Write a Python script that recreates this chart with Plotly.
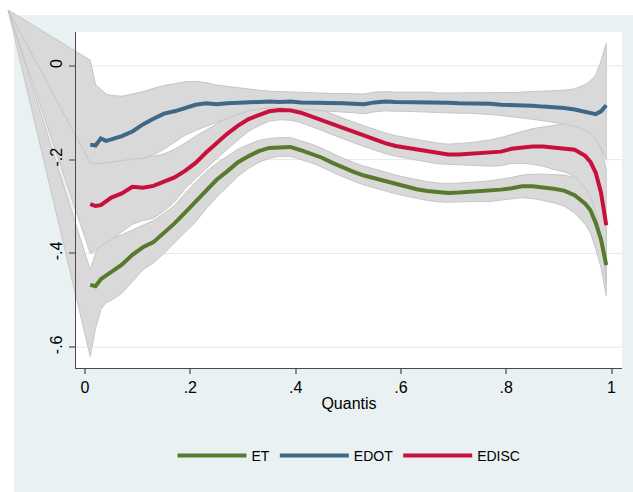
import plotly.graph_objects as go

# Quantile grid of the estimates
quantile = [0.01, 0.02, 0.03, 0.04, 0.05, 0.07, 0.09, 0.11, 0.13, 0.15, 0.17, 0.19,
            0.21, 0.23, 0.25, 0.27, 0.29, 0.31, 0.33, 0.35, 0.37, 0.39, 0.41, 0.43,
            0.45, 0.47, 0.49, 0.51, 0.53, 0.55, 0.57, 0.59, 0.61, 0.63, 0.65, 0.67,
            0.69, 0.71, 0.73, 0.75, 0.77, 0.79, 0.81, 0.83, 0.85, 0.87, 0.89, 0.91,
            0.93, 0.95, 0.96, 0.97, 0.98, 0.99]

# ET: point estimate and confidence bounds
et = [-.467, -.470, -.455, -.447, -.440, -.424, -.403, -.387, -.376, -.357, -.336, -.313,
      -.290, -.265, -.243, -.225, -.206, -.193, -.182, -.175, -.173, -.173, -.180, -.187,
      -.196, -.207, -.217, -.226, -.234, -.240, -.247, -.253, -.258, -.263, -.267, -.270,
      -.271, -.270, -.269, -.268, -.267, -.264, -.261, -.257, -.257, -.259, -.262, -.266,
      -.276, -.294, -.308, -.335, -.370, -.425]
et_hi = [-.435, -.400, -.380, -.372, -.368, -.360, -.350, -.340, -.330, -.315, -.298, -.272,
         -.250, -.226, -.208, -.193, -.178, -.168, -.159, -.155, -.153, -.153, -.160, -.167,
         -.176, -.187, -.197, -.206, -.214, -.220, -.227, -.233, -.238, -.243, -.247, -.250,
         -.251, -.250, -.249, -.247, -.245, -.242, -.238, -.233, -.231, -.231, -.232, -.233,
         -.238, -.250, -.260, -.280, -.310, -.350]
et_lo = [-.620, -.560, -.520, -.505, -.500, -.485, -.460, -.435, -.420, -.400, -.378, -.355,
         -.333, -.305, -.280, -.257, -.236, -.219, -.206, -.197, -.193, -.193, -.200, -.207,
         -.216, -.227, -.237, -.246, -.254, -.260, -.267, -.273, -.278, -.283, -.287, -.290,
         -.291, -.290, -.289, -.289, -.289, -.286, -.284, -.281, -.283, -.287, -.292, -.299,
         -.314, -.338, -.356, -.390, -.430, -.490]

# EDOT
edot = [-.168, -.170, -.155, -.160, -.157, -.150, -.140, -.125, -.113, -.102, -.097, -.089,
        -.083, -.080, -.082, -.080, -.079, -.078, -.076, -.076, -.077, -.076, -.078, -.078,
        -.079, -.080, -.080, -.081, -.082, -.078, -.076, -.077, -.077, -.078, -.077, -.079,
        -.079, -.080, -.080, -.080, -.081, -.083, -.083, -.084, -.085, -.087, -.088, -.090,
        -.093, -.097, -.100, -.103, -.097, -.084]
edot_hi = [.012, -.040, -.050, -.060, -.063, -.065, -.060, -.055, -.048, -.042, -.038, -.034,
           -.033, -.036, -.041, -.044, -.047, -.050, -.052, -.054, -.055, -.056, -.057, -.058,
           -.058, -.059, -.059, -.060, -.060, -.056, -.055, -.056, -.056, -.057, -.056, -.058,
           -.058, -.058, -.058, -.058, -.058, -.058, -.057, -.056, -.055, -.055, -.054, -.052,
           -.049, -.040, -.032, -.020, .010, .048]
edot_lo = [-.207, -.208, -.208, -.207, -.205, -.202, -.199, -.197, -.190, -.178, -.163, -.148,
           -.138, -.129, -.120, -.112, -.104, -.096, -.092, -.090, -.089, -.090, -.092, -.094,
           -.096, -.098, -.099, -.100, -.102, -.098, -.096, -.097, -.097, -.098, -.098, -.099,
           -.100, -.101, -.101, -.102, -.104, -.106, -.108, -.111, -.114, -.117, -.120, -.124,
           -.129, -.138, -.145, -.155, -.175, -.200]

# EDISC
edisc = [-.295, -.299, -.297, -.288, -.281, -.272, -.258, -.260, -.256, -.247, -.238, -.224,
         -.207, -.185, -.165, -.145, -.128, -.114, -.105, -.097, -.094, -.095, -.100, -.108,
         -.116, -.125, -.134, -.142, -.150, -.158, -.165, -.171, -.175, -.179, -.183, -.187,
         -.189, -.189, -.188, -.187, -.186, -.183, -.177, -.174, -.172, -.172, -.174, -.175,
         -.179, -.192, -.205, -.228, -.270, -.340]
edisc_hi = [-.200, -.205, -.207, -.200, -.197, -.192, -.186, -.188, -.193, -.188, -.178, -.165,
            -.150, -.137, -.124, -.112, -.098, -.088, -.082, -.076, -.073, -.074, -.079, -.086,
            -.094, -.103, -.112, -.120, -.128, -.136, -.143, -.149, -.153, -.157, -.161, -.165,
            -.167, -.166, -.164, -.161, -.158, -.153, -.146, -.140, -.134, -.130, -.127, -.124,
            -.122, -.125, -.130, -.145, -.175, -.220]
edisc_lo = [-.400, -.395, -.385, -.378, -.370, -.355, -.338, -.330, -.325, -.310, -.290, -.262,
            -.240, -.220, -.198, -.178, -.158, -.140, -.128, -.118, -.115, -.116, -.121, -.130,
            -.138, -.147, -.156, -.164, -.172, -.180, -.187, -.193, -.197, -.201, -.205, -.209,
            -.211, -.212, -.212, -.213, -.214, -.213, -.208, -.208, -.210, -.214, -.221, -.226,
            -.236, -.259, -.280, -.311, -.365, -.460]

# Stata's rarea polygons all close through this stray point
band_anchor = (-0.146, 0.119)

series_names = ["ET", "EDOT", "EDISC"]
x_ticks = [0, 0.2, 0.4, 0.6, 0.8, 1]
x_tick_text = ["0", ".2", ".4", ".6", ".8", "1"]
y_ticks = [0, -0.2, -0.4, -0.6]
y_tick_text = ["0", "-.2", "-.4", "-.6"]

# ---- styling / geometry ----
W, H = 633, 492
FONT = "Liberation Sans, Arial, sans-serif"
colors = {"ET": "#587a2e", "EDOT": "#3e6886", "EDISC": "#c8103c"}
band_fill = "#d9d9d9"
band_edge = "#c6c6c6"
region_bg = "#e9f1f3"
grid_col = "#e2eaec"
axis_col = "#4a4a4a"

# plot region (pixels) and its data window
px0, px1, py0, py1 = 76, 622, 32, 368
x_range = [-0.0171, 1.0199]
y_range = [-0.6443, 0.0721]
dom_x = [px0 / W, px1 / W]
dom_y = [1 - py1 / H, 1 - py0 / H]


def full_range(r, d):
    span = (r[1] - r[0]) / (d[1] - d[0])
    return [r[0] - d[0] * span, r[1] + (1 - d[1]) * span]


fig = go.Figure()


def band(lo, hi):
    xs = [band_anchor[0]] + quantile + quantile[::-1] + [band_anchor[0]]
    ys = [band_anchor[1]] + hi + lo[::-1] + [band_anchor[1]]
    return go.Scatter(x=xs, y=ys, mode="lines", fill="toself", fillcolor=band_fill,
                      line=dict(color=band_edge, width=1), showlegend=False,
                      hoverinfo="skip", xaxis="x", yaxis="y")


fig.add_trace(band(et_lo, et_hi))
fig.add_trace(band(edisc_lo, edisc_hi))
fig.add_trace(band(edot_lo, edot_hi))

for name, vals in zip(series_names, [et, edot, edisc]):
    fig.add_trace(go.Scatter(x=quantile, y=vals, mode="lines", name=name,
                             line=dict(color=colors[name], width=4),
                             xaxis="x", yaxis="y"))

# empty trace so the framed axes get their own subplot
fig.add_trace(go.Scatter(x=[], y=[], xaxis="x2", yaxis="y2", showlegend=False,
                         hoverinfo="skip"))

shapes = [
    dict(type="rect", xref="paper", yref="paper", x0=14 / W, x1=1, y0=0, y1=1 - 15 / H,
         fillcolor=region_bg, line=dict(width=0), layer="below"),
    dict(type="rect", xref="paper", yref="paper", x0=dom_x[0], x1=dom_x[1],
         y0=dom_y[0], y1=dom_y[1], fillcolor="white", line=dict(width=0), layer="below"),
]
for t in y_ticks:
    shapes.append(dict(type="line", xref="paper", yref="y2", x0=dom_x[0], x1=dom_x[1],
                       y0=t, y1=t, line=dict(color=grid_col, width=1), layer="below"))

fig.update_layout(
    width=W, height=H,
    margin=dict(l=0, r=0, t=0, b=0),
    paper_bgcolor="white",
    plot_bgcolor="rgba(0,0,0,0)",
    font=dict(family=FONT, size=16, color="black"),
    shapes=shapes,
    xaxis=dict(domain=[0, 1], range=full_range(x_range, [dom_x[0], dom_x[1]]),
               visible=False, fixedrange=True),
    yaxis=dict(domain=[0, 1], range=full_range(y_range, [dom_y[0], dom_y[1]]),
               visible=False, fixedrange=True),
    xaxis2=dict(domain=dom_x, range=x_range, anchor="y2", showgrid=False, zeroline=False,
                showline=True, linecolor=axis_col, linewidth=1.3,
                ticks="outside", ticklen=5, tickcolor="#8a8a8a", tickwidth=1.5,
                tickvals=x_ticks, ticktext=x_tick_text, tickfont=dict(size=16),
                title=dict(text="Quantis", font=dict(size=16), standoff=2),
                automargin=False),
    yaxis2=dict(domain=dom_y, range=y_range, anchor="x2", showgrid=False, zeroline=False,
                showline=True, linecolor=axis_col, linewidth=1.3,
                ticks="outside", ticklen=6, tickcolor="#8a8a8a", tickwidth=1.5,
                tickvals=y_ticks, ticktext=y_tick_text, tickangle=-90,
                tickfont=dict(size=16), automargin=False),
    legend=dict(orientation="h", x=(dom_x[0] + dom_x[1]) / 2, xanchor="center",
                y=1 - 456 / H, yanchor="middle", bgcolor="rgba(0,0,0,0)",
                font=dict(size=14), itemwidth=69, tracegroupgap=0),
    showlegend=True,
)

fig.write_html("out.html")
